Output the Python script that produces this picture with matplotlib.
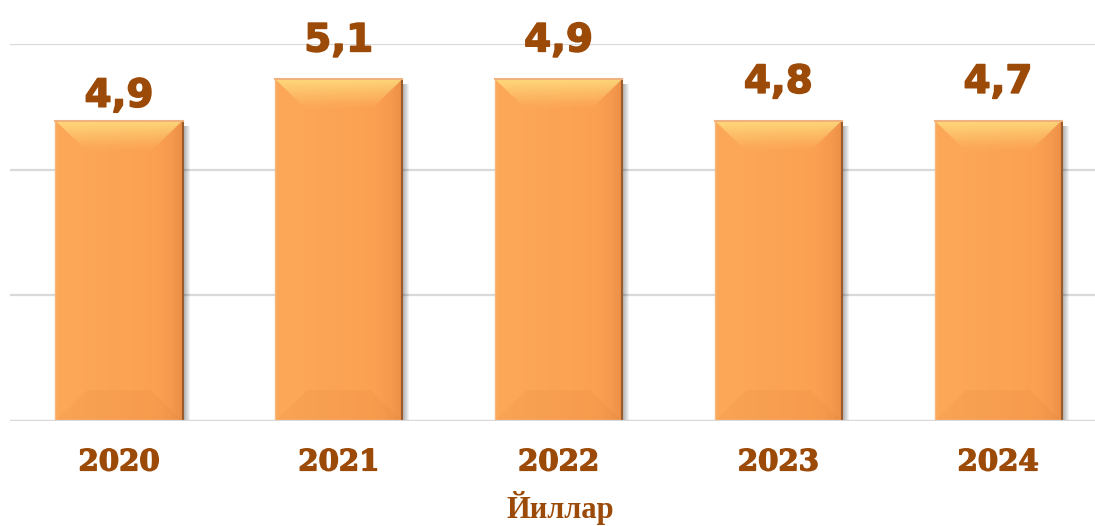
import matplotlib
matplotlib.use("Agg")
import matplotlib.pyplot as plt
import matplotlib.patheffects as pe
import numpy as np
from matplotlib.patches import Polygon, Rectangle

# data
years = ["2020", "2021", "2022", "2023", "2024"]
bar_heights = [4.78, 5.44, 5.44, 4.78, 4.78]   # drawn heights (grid 0/2/4/6)
value_labels = ["4,9", "5,1", "4,9", "4,8", "4,7"]
label_gap_pt = [10, 20, 20, 20, 20]

TXT = "#9C4A08"
FACE = "#FBA050"

fig = plt.figure(figsize=(10.95, 5.26), dpi=100)
ax = fig.add_axes([10 / 1095, 105 / 526, 1085 / 1095, 377 / 526])
x = np.arange(len(years))

bars = ax.bar(x, bar_heights, width=0.578, color=FACE, zorder=3)
ax.set_xlim(-0.496, 4.441)
ax.set_ylim(0, 6)
ax.set_yticks([0, 2, 4, 6])
ax.yaxis.grid(True, color="#D9D9D9", linewidth=1.6, zorder=0)
ax.set_axisbelow(True)
for s in ax.spines.values():
    s.set_visible(False)
ax.tick_params(axis="y", left=False, labelleft=False)
ax.tick_params(axis="x", length=0, pad=19)
ax.set_xticks(x)
ax.set_xticklabels(years, fontsize=21, fontweight="bold", color=TXT,
                   family="DejaVu Serif")
for t in ax.get_xticklabels():
    t.set_path_effects([pe.withStroke(linewidth=1.0, foreground=TXT)])

# pixel -> data conversion for bevel sizes
fig.canvas.draw()
bb = ax.get_window_extent()
px_x = (4.441 + 0.496) / bb.width
px_y = 6.0 / bb.height
bx, by = 32 * px_x, 31 * px_y

# horizontal shading of the face: lighter left, darker at right edge
hx = np.linspace(0, 1, 128)
c_l = np.array([0.99, 0.66, 0.35])
c_m = np.array([0.985, 0.63, 0.32])
c_r = np.array([0.92, 0.56, 0.28])
face = np.where(hx[:, None] < 0.75,
                c_l + (c_m - c_l) * (hx[:, None] / 0.75),
                c_m + (c_r - c_m) * ((hx[:, None] - 0.75) / 0.25) ** 2)
face_img = face.reshape(1, 128, 3)

gy = np.linspace(0, 1, 64)[:, None]
top_rgba = np.zeros((64, 1, 4))
top_rgba[:, 0, :3] = [1.0, 0.87, 0.50]
top_rgba[:, 0, 3] = 0.9 * gy[:, 0] ** 1.2

for b in bars:
    x0, w, h = b.get_x(), b.get_width(), b.get_height()
    x1 = x0 + w
    b.set_facecolor("none")
    # drop shadow on the right
    for k in range(7):
        ax.add_patch(Rectangle((x1, 0), (k + 1) * px_x, h - 5 * px_y,
                               color="black", alpha=0.05, lw=0, zorder=2))
    clip = Rectangle((x0, 0), w, h, transform=ax.transData)
    im = ax.imshow(face_img, extent=(x0, x1, 0, h), aspect="auto",
                   interpolation="bilinear", zorder=3)
    im.set_clip_path(clip)
    # top bevel with gradient
    top = Polygon([(x0, h), (x1, h), (x1 - bx, h - by), (x0 + bx, h - by)],
                  closed=True, facecolor="none", lw=0, zorder=4)
    ax.add_patch(top)
    im2 = ax.imshow(top_rgba, extent=(x0, x1, h - by, h), origin="lower",
                    aspect="auto", zorder=4, interpolation="bilinear")
    im2.set_clip_path(top)
    # bottom bevel slightly darker
    ax.add_patch(Polygon([(x0, 0), (x1, 0), (x1 - bx, by), (x0 + bx, by)],
                         closed=True, color="#B05010", alpha=0.05, lw=0,
                         zorder=4))
    # edges
    ax.plot([x1, x1], [0, h], color="#9A5A2A", lw=1.5, zorder=5,
            solid_capstyle="butt")
    ax.plot([x0, x1], [h, h], color="#EFB27E", lw=1.5, zorder=5)
    ax.plot([x0, x0], [0, h], color="#F5B880", lw=1.0, zorder=5)

ax.axhline(0, color="#D9D9D9", lw=1.6, zorder=6)
ax.set_aspect("auto")
ax.set_xlim(-0.496, 4.441)
ax.set_ylim(0, 6)

for xi, h, lab, gap in zip(x, bar_heights, value_labels, label_gap_pt):
    ax.annotate(lab, (xi, h), xytext=(0, gap), textcoords="offset points",
                ha="center", va="baseline", fontsize=28, fontweight="bold",
                color=TXT, family="DejaVu Sans", annotation_clip=False,
                zorder=6,
                path_effects=[pe.withStroke(linewidth=1.1, foreground=TXT)])

fig.text(560 / 1095, 1 - 508 / 526, "Йиллар", ha="center", va="center",
         fontsize=22, fontweight="bold", color=TXT, family="Liberation Serif")

fig.savefig("out.png", dpi=100, facecolor="white")
